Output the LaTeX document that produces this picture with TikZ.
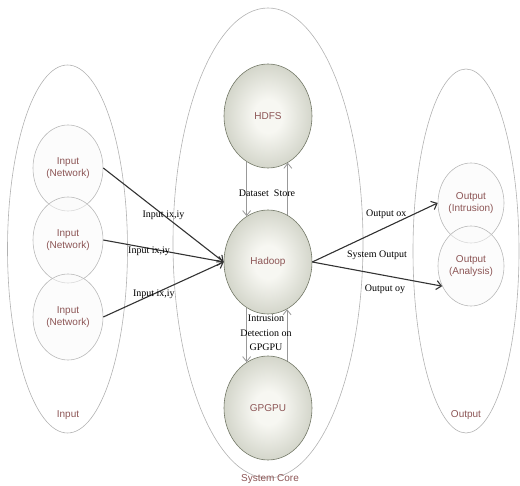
\documentclass[tikz,border=0pt]{standalone}
\usepackage{xcolor}
\usepackage{fontspec}
\setmainfont{Liberation Serif}
\newfontfamily\arialfont{Liberation Sans}
\usetikzlibrary{shapes.geometric,arrows.meta}

\definecolor{ballin}{RGB}{247,247,242}
\definecolor{ballout}{RGB}{160,165,145}
\definecolor{ballrim}{RGB}{115,120,103}
\definecolor{labelred}{RGB}{140,85,85}
\pgfdeclareradialshading{ballshade}{\pgfpoint{0bp}{0bp}}{color(0bp)=(ballin); color(8bp)=(ballin); color(50bp)=(ballout); color(60bp)=(ballout)}

\begin{document}
\begin{tikzpicture}[x=1pt, y=-1pt,
    group/.style={ellipse, draw=gray!60, line width=0.6pt, inner sep=0pt},
    grouplabel/.style={font=\arialfont\fontsize{10}{12}\selectfont, text=labelred},
    ball/.style={ellipse, draw=ballrim, line width=0.6pt, shade, shading=ballshade, minimum width=88pt, minimum height=104pt, inner sep=0pt, font=\arialfont\fontsize{10}{12}\selectfont, text=labelred},
    bubble/.style={ellipse, draw=gray!55, line width=0.6pt, fill=gray!4, fill opacity=0.5, text opacity=1, inner sep=0pt, align=center, font=\arialfont\fontsize{10}{12}\selectfont, text=labelred},
    flow/.style={draw=black!80, line width=1.1pt, -{Straight Barb[length=5pt,width=9pt]}},
    feed/.style={draw=gray!80, line width=0.8pt, -{Straight Barb[length=5pt,width=8pt]}},
    edgelabel/.style={font=\fontsize{10}{12}\selectfont, inner sep=1pt}]
  \useasboundingbox (0,0) rectangle (520,486);

  % groups
  \node[group, minimum width=120pt, minimum height=368pt] (ingroup) at (67.5,249) {};
  \node[group, minimum width=190pt, minimum height=470pt] (core) at (268,243) {};
  \node[group, minimum width=106pt, minimum height=364pt] (outgroup) at (466,251) {};
  \node[grouplabel] (inlabel) at (68,415) {Input};
  \node[grouplabel] (outlabel) at (466,415) {Output};
  \node[grouplabel] (corelabel) at (270,479) {System Core};

  % inputs and outputs
  \node[bubble, minimum width=70pt, minimum height=86pt] (in1) at (68,168) {Input\\(Network)};
  \node[bubble, minimum width=70pt, minimum height=86pt] (in2) at (68,240) {Input\\(Network)};
  \node[bubble, minimum width=70pt, minimum height=86pt] (in3) at (68,317) {Input\\(Network)};
  \node[bubble, minimum width=66pt, minimum height=80pt] (outint) at (471,203) {Output\\(Intrusion)};
  \node[bubble, minimum width=66pt, minimum height=80pt] (outana) at (471,266) {Output\\(Analysis)};

  % system core
  \node[ball] (hdfs) at (268,116) {HDFS};
  \node[ball] (hadoop) at (268,262) {Hadoop};
  \node[ball] (gpgpu) at (268,408) {GPGPU};

  \draw[flow] (in1.east) -- (hadoop.west) node[edgelabel, pos=.5] (inlab1) {Input ix,iy};
  \draw[flow] (in2.east) -- (hadoop.west) node[edgelabel, pos=.38, yshift=-3pt] (inlab2) {Input ix,iy};
  \draw[flow] (in3.east) -- (hadoop.west) node[edgelabel, pos=.42] (inlab3) {Input ix,iy};

  \draw[flow] (hadoop.east) -- (outint.west) node[edgelabel, pos=.59, yshift=13pt] (oxlab) {Output ox};
  \draw[flow] (hadoop.east) -- (outana.215) node[edgelabel, pos=.56, yshift=-14pt] (oylab) {Output oy};
  \node[edgelabel] (syslab) at (377,255) {System Output};

  \draw[feed] (hdfs.245) -- (hadoop.115);
  \draw[feed] (hadoop.67) -- (hdfs.293);
  \node[edgelabel] (storelab) at (267,193) {Dataset\ \ Store};
  \draw[feed] (hadoop.245) -- (gpgpu.115);
  \draw[feed] (gpgpu.68) -- (hadoop.292);
  \node[edgelabel, align=center, font=\fontsize{10}{14.5}\selectfont] (idlab) at (266,333) {Intrusion\\Detection on\\GPGPU};
\end{tikzpicture}
\end{document}
